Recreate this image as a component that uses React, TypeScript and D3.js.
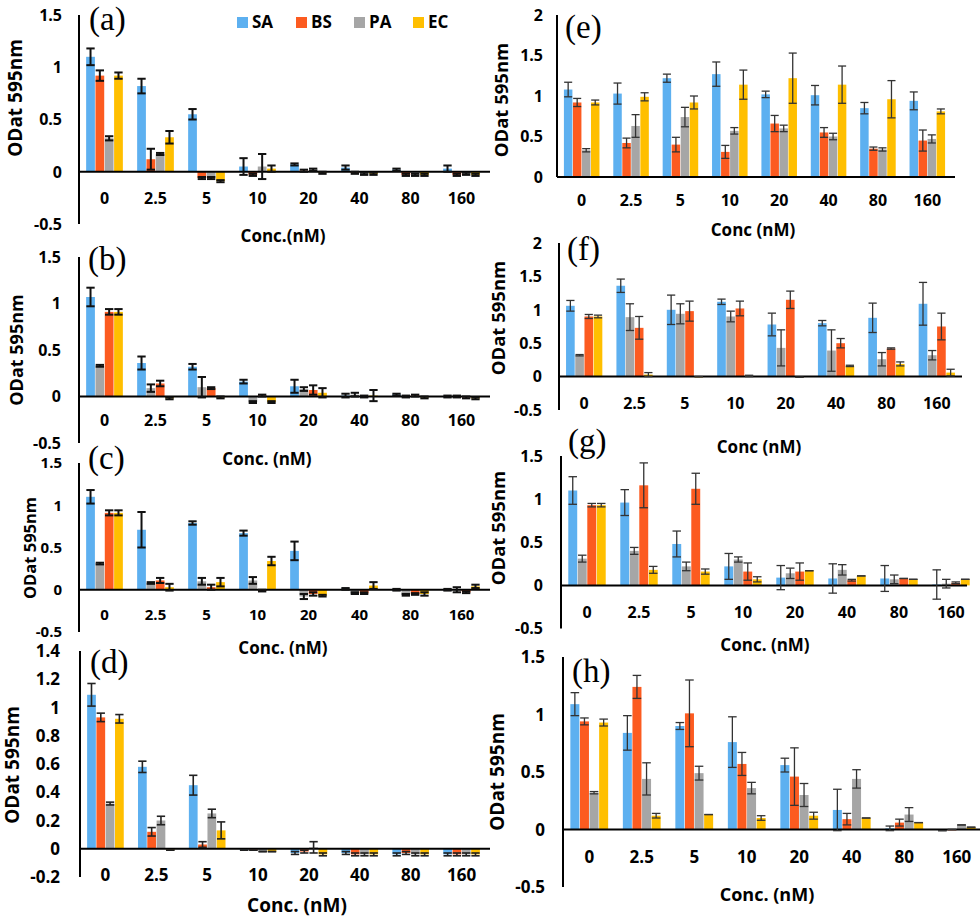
import React from 'react';
import * as d3 from 'd3';

const CATS = ["0", "2.5", "5", "10", "20", "40", "80", "160"];
const SERIES = ["SA", "BS", "PA", "EC"];
const COLORS: Record<string, string> = { SA: "#5DB0F0", BS: "#FC5B20", PA: "#A6A6A6", EC: "#FFBF00" };

const TICKS_STD = [-0.5, 0, 0.5, 1, 1.5];
const TICKS_D = [-0.2, 0, 0.2, 0.4, 0.6, 0.8, 1, 1.2, 1.4];
const TICKS_E = [0, 0.5, 1, 1.5, 2];
const TICKS_F = [-0.5, 0, 0.5, 1, 1.5, 2];

// (a)
const aSA = [1.10, 0.82, 0.55, 0.05, 0.07, 0.04, 0.02, 0.03];
const aSAe = [0.08, 0.07, 0.05, 0.08, 0.01, 0.02, 0.01, 0.03];
const aBS = [0.92, 0.12, -0.06, -0.03, 0.01, -0.01, -0.03, -0.03];
const aBSe = [0.05, 0.10, 0.01, 0.01, 0.01, 0.01, 0.01, 0.01];
const aPA = [0.32, 0.17, -0.06, 0.05, 0.02, -0.02, -0.03, -0.02];
const aPAe = [0.02, 0.01, 0.01, 0.12, 0.01, 0.01, 0.01, 0.01];
const aEC = [0.92, 0.33, -0.09, 0.03, -0.01, -0.02, -0.03, -0.03];
const aECe = [0.03, 0.06, 0.01, 0.03, 0.01, 0.01, 0.01, 0.01];
// (b)
const bSA = [1.07, 0.36, 0.32, 0.16, 0.11, 0.01, 0.02, 0.00];
const bSAe = [0.10, 0.07, 0.03, 0.02, 0.07, 0.02, 0.01, 0.01];
const bPA = [0.33, 0.09, 0.10, -0.06, 0.08, 0.02, 0.00, 0.00];
const bPAe = [0.01, 0.04, 0.11, 0.01, 0.02, 0.02, 0.01, 0.01];
const bBS = [0.91, 0.14, 0.09, 0.01, 0.07, 0.00, 0.01, -0.01];
const bBSe = [0.03, 0.03, 0.01, 0.01, 0.05, 0.01, 0.01, 0.01];
const bEC = [0.91, -0.02, -0.01, -0.06, 0.04, 0.01, -0.01, -0.02];
const bECe = [0.03, 0.01, 0.01, 0.01, 0.05, 0.06, 0.01, 0.01];
// (c)
const cSA = [1.10, 0.71, 0.79, 0.67, 0.46, 0.01, 0.00, 0.00];
const cSAe = [0.08, 0.21, 0.02, 0.03, 0.11, 0.01, 0.01, 0.01];
const cPA = [0.31, 0.08, 0.10, 0.11, -0.08, -0.04, -0.06, 0.00];
const cPAe = [0.01, 0.01, 0.04, 0.04, 0.03, 0.01, 0.01, 0.03];
const cBS = [0.91, 0.11, 0.03, -0.01, -0.05, -0.04, -0.05, -0.03];
const cBSe = [0.03, 0.03, 0.03, 0.01, 0.02, 0.01, 0.01, 0.01];
const cEC = [0.91, 0.03, 0.09, 0.34, -0.07, 0.05, -0.05, 0.04];
const cECe = [0.03, 0.04, 0.05, 0.05, 0.01, 0.04, 0.02, 0.02];
// (d)
const dSA = [1.09, 0.58, 0.45, -0.01, -0.03, -0.03, -0.04, -0.04];
const dSAe = [0.08, 0.04, 0.07, 0.00, 0.01, 0.01, 0.01, 0.01];
const dBS = [0.93, 0.12, 0.03, -0.01, -0.02, -0.04, -0.03, -0.04];
const dBSe = [0.03, 0.03, 0.02, 0.00, 0.01, 0.01, 0.01, 0.01];
const dPA = [0.32, 0.20, 0.25, -0.02, 0.01, -0.04, -0.04, -0.04];
const dPAe = [0.01, 0.03, 0.03, 0.00, 0.04, 0.01, 0.01, 0.01];
const dEC = [0.92, -0.01, 0.13, -0.02, -0.04, -0.04, -0.04, -0.04];
const dECe = [0.03, 0.00, 0.06, 0.00, 0.01, 0.01, 0.01, 0.01];
// (e)
const eSA = [1.08, 1.03, 1.22, 1.27, 1.02, 1.01, 0.85, 0.94];
const eSAe = [0.09, 0.13, 0.05, 0.15, 0.04, 0.12, 0.07, 0.11];
const eBS = [0.92, 0.42, 0.40, 0.31, 0.66, 0.55, 0.35, 0.45];
const eBSe = [0.05, 0.06, 0.09, 0.08, 0.10, 0.06, 0.02, 0.13];
const ePA = [0.33, 0.63, 0.74, 0.57, 0.60, 0.50, 0.34, 0.47];
const ePAe = [0.02, 0.14, 0.12, 0.04, 0.04, 0.04, 0.02, 0.05];
const eEC = [0.92, 0.99, 0.92, 1.14, 1.22, 1.14, 0.96, 0.81];
const eECe = [0.03, 0.05, 0.08, 0.18, 0.31, 0.23, 0.23, 0.03];
// (f)
const fSA = [1.06, 1.36, 1.00, 1.12, 0.78, 0.80, 0.88, 1.09];
const fSAe = [0.08, 0.10, 0.22, 0.04, 0.17, 0.04, 0.22, 0.32];
const fPA = [0.32, 0.89, 0.94, 0.90, 0.43, 0.39, 0.26, 0.32];
const fPAe = [0.01, 0.20, 0.15, 0.08, 0.27, 0.31, 0.10, 0.07];
const fBS = [0.90, 0.73, 0.98, 1.02, 1.15, 0.50, 0.42, 0.75];
const fBSe = [0.03, 0.17, 0.15, 0.11, 0.13, 0.07, 0.01, 0.20];
const fEC = [0.90, 0.03, 0.00, 0.01, -0.01, 0.16, 0.19, 0.06];
const fECe = [0.02, 0.03, 0.00, 0.01, 0.00, 0.01, 0.03, 0.05];
// (g)
const gSA = [1.10, 0.96, 0.48, 0.22, 0.09, 0.08, 0.08, 0.01];
const gSAe = [0.16, 0.15, 0.15, 0.15, 0.14, 0.17, 0.15, 0.17];
const gPA = [0.31, 0.40, 0.22, 0.30, 0.14, 0.18, 0.07, 0.02];
const gPAe = [0.04, 0.04, 0.05, 0.03, 0.06, 0.06, 0.05, 0.05];
const gBS = [0.93, 1.16, 1.12, 0.16, 0.16, 0.06, 0.08, 0.03];
const gBSe = [0.02, 0.26, 0.18, 0.10, 0.10, 0.01, 0.00, 0.01];
const gEC = [0.93, 0.18, 0.16, 0.07, 0.17, 0.11, 0.07, 0.07];
const gECe = [0.02, 0.04, 0.03, 0.03, 0.00, 0.00, 0.00, 0.00];
// (h)
const hSA = [1.09, 0.84, 0.90, 0.76, 0.56, 0.17, 0.01, -0.01];
const hSAe = [0.10, 0.15, 0.03, 0.22, 0.06, 0.18, 0.02, 0.00];
const hBS = [0.94, 1.24, 1.01, 0.57, 0.46, 0.09, 0.06, 0.00];
const hBSe = [0.03, 0.10, 0.29, 0.10, 0.25, 0.05, 0.03, 0.00];
const hPA = [0.32, 0.44, 0.49, 0.36, 0.30, 0.44, 0.13, 0.04];
const hPAe = [0.01, 0.14, 0.06, 0.05, 0.10, 0.08, 0.06, 0.00];
const hEC = [0.93, 0.12, 0.13, 0.10, 0.12, 0.10, 0.06, 0.02];
const hECe = [0.03, 0.02, 0.00, 0.02, 0.03, 0.00, 0.00, 0.00];

const FONT = "'Open Sans', 'DejaVu Sans', sans-serif";
const SERIF = "'Liberation Serif', 'DejaVu Serif', serif";

type Cfg = {
  letter: string; order: string[]; vals: Record<string, number[]>; errs: Record<string, number[]>;
  ticks: number[]; yDomain: [number, number]; yRange: [number, number];
  axisX: number; x1: number; zeroEnd: number; tickRight: number; fs: number;
  catY: number; letterPos: [number, number]; title: string; titlePos: [number, number]; titleFs: number;
  ylab: [number, number]; ylabFs: number; errColor: string; errW: number; axisW: number;
};

const mk = (SA: number[], BS: number[], PA: number[], EC: number[]) => ({ SA, BS, PA, EC });

const PANELS: Cfg[] = [
  { letter: "(a)", order: ["SA", "BS", "PA", "EC"], vals: mk(aSA, aBS, aPA, aEC), errs: mk(aSAe, aBSe, aPAe, aECe),
    ticks: TICKS_STD, yDomain: [-0.5, 1.5], yRange: [224, 15], axisX: 79, x1: 487, zeroEnd: 490, tickRight: 62, fs: 16,
    catY: 204, letterPos: [89, 30], title: "Conc.(nM)", titlePos: [283, 242], titleFs: 17, ylab: [15, 98], ylabFs: 19,
    errColor: "#111", errW: 2, axisW: 2 },
  { letter: "(b)", order: ["SA", "PA", "BS", "EC"], vals: mk(bSA, bBS, bPA, bEC), errs: mk(bSAe, bBSe, bPAe, bECe),
    ticks: TICKS_STD, yDomain: [-0.5, 1.5], yRange: [443, 257], axisX: 79, x1: 487, zeroEnd: 490, tickRight: 61, fs: 16,
    catY: 426, letterPos: [88, 270], title: "Conc. (nM)", titlePos: [267, 465], titleFs: 17, ylab: [17, 350], ylabFs: 18,
    errColor: "#111", errW: 2, axisW: 2 },
  { letter: "(c)", order: ["SA", "PA", "BS", "EC"], vals: mk(cSA, cBS, cPA, cEC), errs: mk(cSAe, cBSe, cPAe, cECe),
    ticks: TICKS_STD, yDomain: [-0.5, 1.5], yRange: [632, 463], axisX: 79, x1: 487, zeroEnd: 490, tickRight: 62, fs: 15,
    catY: 620, letterPos: [88, 469], title: "Conc. (nM)", titlePos: [283, 654], titleFs: 17, ylab: [30, 548], ylabFs: 16.5,
    errColor: "#111", errW: 2, axisW: 2 },
  { letter: "(d)", order: ["SA", "BS", "PA", "EC"], vals: mk(dSA, dBS, dPA, dEC), errs: mk(dSAe, dBSe, dPAe, dECe),
    ticks: TICKS_D, yDomain: [-0.2, 1.4], yRange: [877, 651], axisX: 80, x1: 487, zeroEnd: 490, tickRight: 60, fs: 17,
    catY: 881, letterPos: [90, 673], title: "Conc. (nM)", titlePos: [297, 912], titleFs: 19, ylab: [12, 765], ylabFs: 19,
    errColor: "#222", errW: 1.6, axisW: 2 },
  { letter: "(e)", order: ["SA", "BS", "PA", "EC"], vals: mk(eSA, eBS, ePA, eEC), errs: mk(eSAe, eBSe, ePAe, eECe),
    ticks: TICKS_E, yDomain: [0, 2], yRange: [177, 15], axisX: 557, x1: 952, zeroEnd: 955, tickRight: 543, fs: 16,
    catY: 206, letterPos: [565, 38], title: "Conc (nM)", titlePos: [753, 236], titleFs: 17, ylab: [501, 100], ylabFs: 18.5,
    errColor: "#333", errW: 1.3, axisW: 2 },
  { letter: "(f)", order: ["SA", "PA", "BS", "EC"], vals: mk(fSA, fBS, fPA, fEC), errs: mk(fSAe, fBSe, fPAe, fECe),
    ticks: TICKS_F, yDomain: [-0.5, 2], yRange: [410, 243], axisX: 559, x1: 962, zeroEnd: 962, tickRight: 542, fs: 16,
    catY: 409, letterPos: [567, 260], title: "Conc (nM)", titlePos: [759, 453], titleFs: 17, ylab: [498, 318], ylabFs: 18.5,
    errColor: "#333", errW: 1.3, axisW: 2 },
  { letter: "(g)", order: ["SA", "PA", "BS", "EC"], vals: mk(gSA, gBS, gPA, gEC), errs: mk(gSAe, gBSe, gPAe, gECe),
    ticks: TICKS_STD, yDomain: [-0.5, 1.5], yRange: [628.5, 456], axisX: 561, x1: 977, zeroEnd: 967, tickRight: 543, fs: 16,
    catY: 618, letterPos: [568, 452], title: "Conc. (nM)", titlePos: [765, 651], titleFs: 17, ylab: [498, 528], ylabFs: 18.5,
    errColor: "#333", errW: 1.3, axisW: 2 },
  { letter: "(h)", order: ["SA", "BS", "PA", "EC"], vals: mk(hSA, hBS, hPA, hEC), errs: mk(hSAe, hBSe, hPAe, hECe),
    ticks: TICKS_STD, yDomain: [-0.5, 1.5], yRange: [887, 657], axisX: 563, x1: 983, zeroEnd: 980, tickRight: 545, fs: 17,
    catY: 863, letterPos: [572, 682], title: "Conc. (nM)", titlePos: [767, 901], titleFs: 18, ylab: [497, 772], ylabFs: 19,
    errColor: "#333", errW: 1.3, axisW: 2 },
];

function Panel({ cfg }: { cfg: Cfg }) {
  const y = d3.scaleLinear().domain(cfg.yDomain).range(cfg.yRange);
  const x = d3.scaleBand<string>().domain(CATS).range([cfg.axisX, cfg.x1]).paddingInner(0.28).paddingOuter(0.14);
  const xs = d3.scaleBand<string>().domain(cfg.order).range([0, x.bandwidth()]).paddingInner(0.06);
  const bw = xs.bandwidth();
  const capW = bw * 0.95;
  return (
    <g>
      {CATS.map((c, i) => (
        <g key={c} transform={`translate(${x(c)},0)`}>
          {cfg.order.map((s) => {
            const v = cfg.vals[s][i];
            const top = y(Math.max(0, v));
            const bot = y(Math.min(0, v));
            return (
              <rect key={s} x={xs(s)} y={top} width={bw} height={Math.max(0.8, bot - top)} fill={COLORS[s]} />
            );
          })}
        </g>
      ))}
      <line x1={cfg.axisX} x2={cfg.zeroEnd} y1={y(0)} y2={y(0)} stroke="#000" strokeWidth={cfg.axisW} />
      <line x1={cfg.axisX} x2={cfg.axisX} y1={y(cfg.yDomain[1])} y2={y(cfg.yDomain[0])} stroke="#000" strokeWidth={cfg.axisW} />
      {CATS.map((c, i) => (
        <g key={c} transform={`translate(${x(c)},0)`}>
          {cfg.order.map((s) => {
            const v = cfg.vals[s][i];
            const e = cfg.errs[s][i];
            const cx = (xs(s) as number) + bw / 2;
            const yHi = y(v + e), yLo = y(v - e);
            return (
              <g key={s} stroke={cfg.errColor} strokeWidth={cfg.errW}>
                <line x1={cx} x2={cx} y1={yHi} y2={yLo} />
                <line x1={cx - capW / 2} x2={cx + capW / 2} y1={yHi} y2={yHi} />
                <line x1={cx - capW / 2} x2={cx + capW / 2} y1={yLo} y2={yLo} />
              </g>
            );
          })}
        </g>
      ))}
      {cfg.ticks.map((t) => (
        <text key={t} x={cfg.tickRight} y={y(t)} dy="0.36em" textAnchor="end" fontFamily={FONT} fontWeight="bold" fontSize={cfg.fs} fill="#000">
          {String(t)}
        </text>
      ))}
      {CATS.map((c) => (
        <text key={c} x={(x(c) as number) + x.bandwidth() / 2} y={cfg.catY} textAnchor="middle" fontFamily={FONT} fontWeight="bold" fontSize={cfg.fs} fill="#000">
          {c}
        </text>
      ))}
      <text x={cfg.letterPos[0]} y={cfg.letterPos[1]} fontFamily={SERIF} fontSize={33} fill="#000">{cfg.letter}</text>
      <text x={cfg.titlePos[0]} y={cfg.titlePos[1]} textAnchor="middle" fontFamily={FONT} fontWeight="bold" fontSize={cfg.titleFs} fill="#000">{cfg.title}</text>
      <text transform={`translate(${cfg.ylab[0]},${cfg.ylab[1]}) rotate(-90)`} textAnchor="middle" dy="0.36em" fontFamily={FONT} fontWeight="bold" fontSize={cfg.ylabFs} fill="#000">ODat 595nm</text>
    </g>
  );
}

function Legend() {
  const xs = [237, 296, 354, 413];
  return (
    <g>
      {SERIES.map((s, i) => (
        <g key={s}>
          <rect x={xs[i]} y={17} width={11} height={11} fill={COLORS[s]} />
          <text x={xs[i] + 15} y={28} fontFamily={FONT} fontWeight="bold" fontSize={17} fill="#000">{s}</text>
        </g>
      ))}
    </g>
  );
}

export default function App() {
  return (
    <svg width={980} height={921} style={{ position: 'absolute', left: 0, top: 0, background: '#fff' }}>
      <rect width={980} height={921} fill="#fff" />
      {PANELS.map((p) => <Panel key={p.letter} cfg={p} />)}
      <Legend />
    </svg>
  );
}
